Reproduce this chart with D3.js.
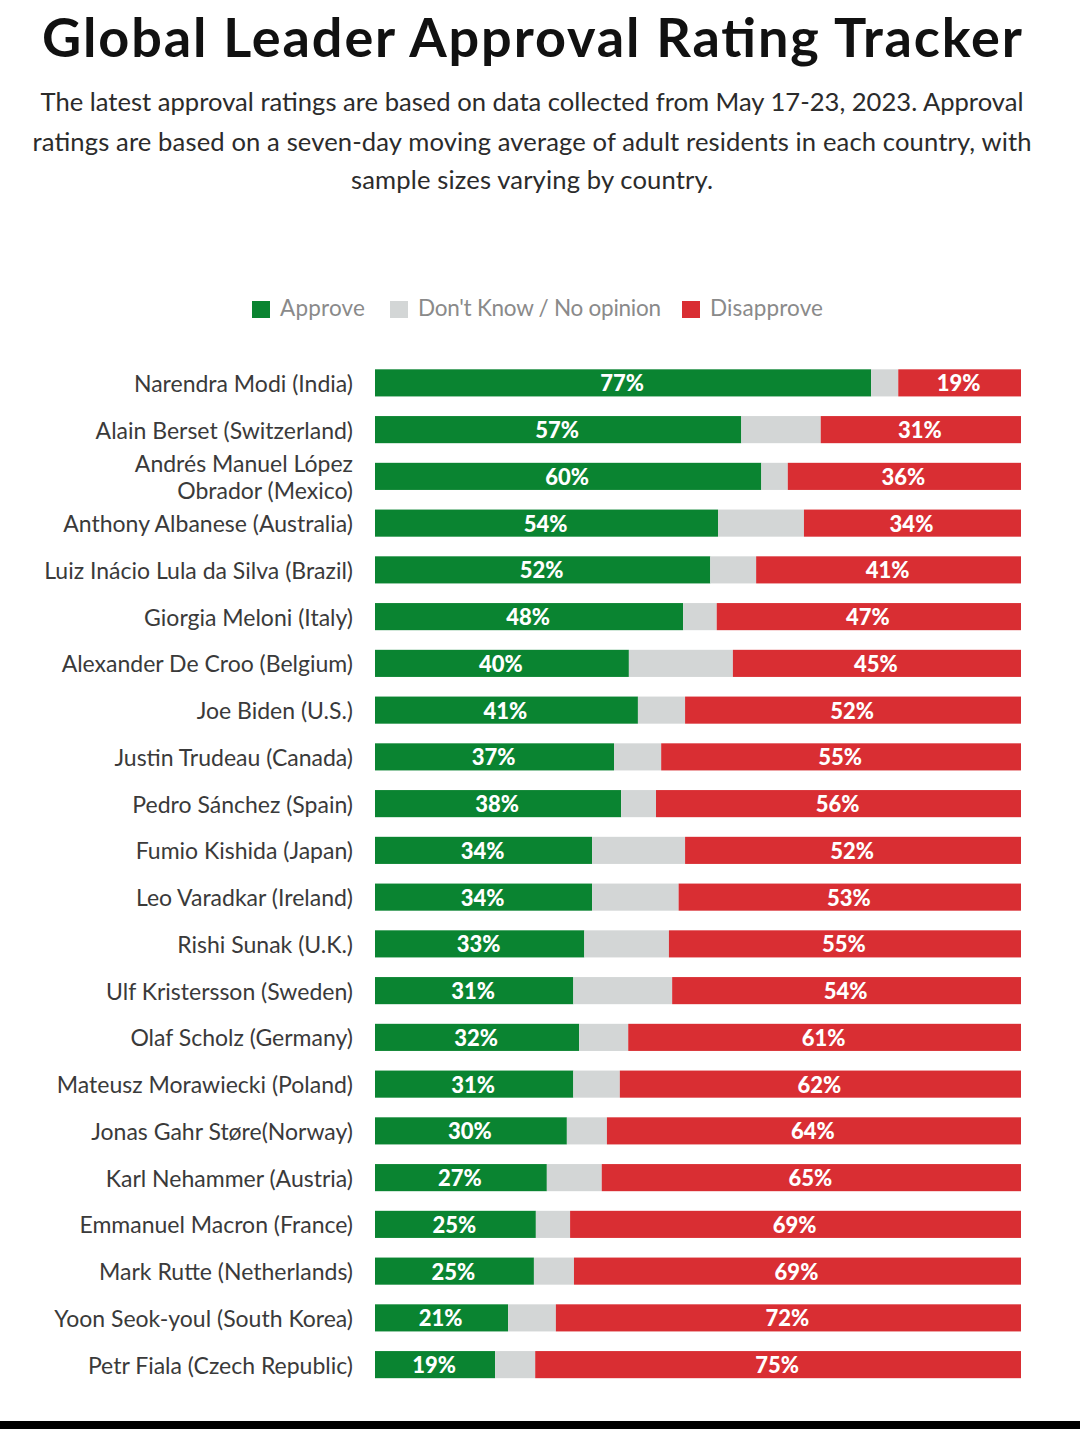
<!DOCTYPE html>
<html>
<head>
<meta charset="utf-8">
<script src="https://cdn.jsdelivr.net/npm/d3@7"></script>
<style>
  html, body { margin: 0; padding: 0; background: #fff; }
  svg { display: block; font-family: "Lato", sans-serif; }
</style>
</head>
<body>
<svg id="chart" width="1080" height="1429"></svg>
<script>
var names = [
  ["Narendra Modi (India)"],
  ["Alain Berset (Switzerland)"],
  ["Andrés Manuel López", "Obrador (Mexico)"],
  ["Anthony Albanese (Australia)"],
  ["Luiz Inácio Lula da Silva (Brazil)"],
  ["Giorgia Meloni (Italy)"],
  ["Alexander De Croo (Belgium)"],
  ["Joe Biden (U.S.)"],
  ["Justin Trudeau (Canada)"],
  ["Pedro Sánchez (Spain)"],
  ["Fumio Kishida (Japan)"],
  ["Leo Varadkar (Ireland)"],
  ["Rishi Sunak (U.K.)"],
  ["Ulf Kristersson (Sweden)"],
  ["Olaf Scholz (Germany)"],
  ["Mateusz Morawiecki (Poland)"],
  ["Jonas Gahr Støre(Norway)"],
  ["Karl Nehammer (Austria)"],
  ["Emmanuel Macron (France)"],
  ["Mark Rutte (Netherlands)"],
  ["Yoon Seok-youl (South Korea)"],
  ["Petr Fiala (Czech Republic)"]
];

// printed labels
var approveLabels = [77, 57, 60, 54, 52, 48, 40, 41, 37, 38, 34, 34, 33, 31, 32, 31, 30, 27, 25, 25, 21, 19];
var disapproveLabels = [19, 31, 36, 34, 41, 47, 45, 52, 55, 56, 52, 53, 55, 54, 61, 62, 64, 65, 69, 69, 72, 75];

// segment lengths, the printed numbers are rounded differently
var approve = [76.8, 56.7, 59.8, 53.1, 51.9, 47.7, 39.3, 40.7, 37.0, 38.1, 33.6, 33.6, 32.4, 30.7, 31.6, 30.7, 29.7, 26.6, 24.9, 24.6, 20.6, 18.6];
var dontKnow = [4.2, 12.3, 4.1, 13.3, 7.1, 5.2, 16.1, 7.3, 7.3, 5.4, 14.4, 13.4, 13.1, 15.3, 7.6, 7.2, 6.2, 8.5, 5.3, 6.2, 7.4, 6.2];
var disapprove = [19.0, 31.0, 36.1, 33.6, 41.0, 47.1, 44.6, 52.0, 55.7, 56.5, 52.0, 53.0, 54.5, 54.0, 60.8, 62.1, 64.1, 64.9, 69.8, 69.2, 72.0, 75.2];

var legendNames = ["Approve", "Don't Know / No opinion", "Disapprove"];
var colors = ["#0a8431", "#d3d6d6", "#d92e33"];

var subtitle = [
  "The latest approval ratings are based on data collected from May 17-23, 2023. Approval",
  "ratings are based on a seven-day moving average of adult residents in each country, with",
  "sample sizes varying by country."
];

var svg = d3.select("#chart");

svg.append("text")
  .attr("x", 532).attr("y", 57)
  .attr("text-anchor", "middle")
  .attr("font-size", 54).attr("font-weight", 700).attr("fill", "#111")
  .attr("textLength", 980)
  .text("Global Leader Approval Rating Tracker");

var subLen = [983, 999, 362];
svg.selectAll(".sub")
  .data(subtitle)
  .enter()
  .append("text")
  .attr("class", "sub")
  .attr("x", 532)
  .attr("y", function(d, i) { return [111, 151, 189][i]; })
  .attr("text-anchor", "middle")
  .attr("font-size", 25.6).attr("fill", "#2b2b2b")
  .attr("textLength", function(d, i) { return subLen[i]; })
  .text(function(d) { return d; });

// legend
var legendX = [252, 390, 682];
var legendLen = [85, 243, 113];
var legend = svg.selectAll(".legend")
  .data(legendNames)
  .enter()
  .append("g")
  .attr("class", "legend")
  .attr("transform", function(d, i) { return "translate(" + legendX[i] + ",300)"; });
legend.append("rect")
  .attr("width", 18).attr("height", 17)
  .attr("y", 1)
  .attr("fill", function(d, i) { return colors[i]; });
legend.append("text")
  .attr("x", 28)
  .attr("y", 15.5)
  .attr("font-size", 22.5).attr("fill", "#8a8a8a")
  .attr("textLength", function(d, i) { return legendLen[i]; })
  .text(function(d) { return d; });

var xScale = d3.scaleLinear().domain([0, 100]).range([375, 1021]);
var yScale = d3.scaleBand()
  .domain(d3.range(names.length))
  .range([359.5, 1388])
  .paddingInner(0.42)
  .paddingOuter(0.21);

var rows = svg.selectAll(".row")
  .data(names)
  .enter()
  .append("g")
  .attr("class", "row")
  .attr("transform", function(d, i) { return "translate(0," + yScale(i) + ")"; });

// name labels, Obrador takes two lines
rows.each(function(d) {
  var g = d3.select(this);
  d.forEach(function(line, k) {
    g.append("text")
      .attr("x", 353)
      .attr("y", yScale.bandwidth() / 2 + 9 + (k - (d.length - 1) / 2) * 27)
      .attr("text-anchor", "end")
      .attr("font-size", 23).attr("fill", "#3a3a3a")
      .text(line);
  });
});

rows.append("rect")
  .attr("x", function(d, i) { return xScale(0); })
  .attr("width", function(d, i) { return xScale(approve[i]) - xScale(0); })
  .attr("height", yScale.bandwidth())
  .attr("fill", colors[0]);
rows.append("rect")
  .attr("x", function(d, i) { return xScale(approve[i]); })
  .attr("width", function(d, i) { return xScale(dontKnow[i]) - xScale(0); })
  .attr("height", yScale.bandwidth())
  .attr("fill", colors[1]);
rows.append("rect")
  .attr("x", function(d, i) { return xScale(100 - disapprove[i]); })
  .attr("width", function(d, i) { return xScale(disapprove[i]) - xScale(0); })
  .attr("height", yScale.bandwidth())
  .attr("fill", colors[2]);

rows.append("text")
  .attr("x", function(d, i) { return xScale(approve[i] / 2) - 1; })
  .attr("y", yScale.bandwidth() / 2 + 8.5)
  .attr("text-anchor", "middle")
  .attr("font-size", 22).attr("font-weight", 900).attr("fill", "#fff")
  .text(function(d, i) { return approveLabels[i] + "%"; });
rows.append("text")
  .attr("x", function(d, i) { return xScale(100 - disapprove[i] / 2) - 1; })
  .attr("y", yScale.bandwidth() / 2 + 8.5)
  .attr("text-anchor", "middle")
  .attr("font-size", 22).attr("font-weight", 900).attr("fill", "#fff")
  .text(function(d, i) { return disapproveLabels[i] + "%"; });

// black strip along the bottom of the screenshot
svg.append("rect")
  .attr("x", 0).attr("y", 1421)
  .attr("width", 1080).attr("height", 8)
  .attr("fill", "#000");
</script>
</body>
</html>
